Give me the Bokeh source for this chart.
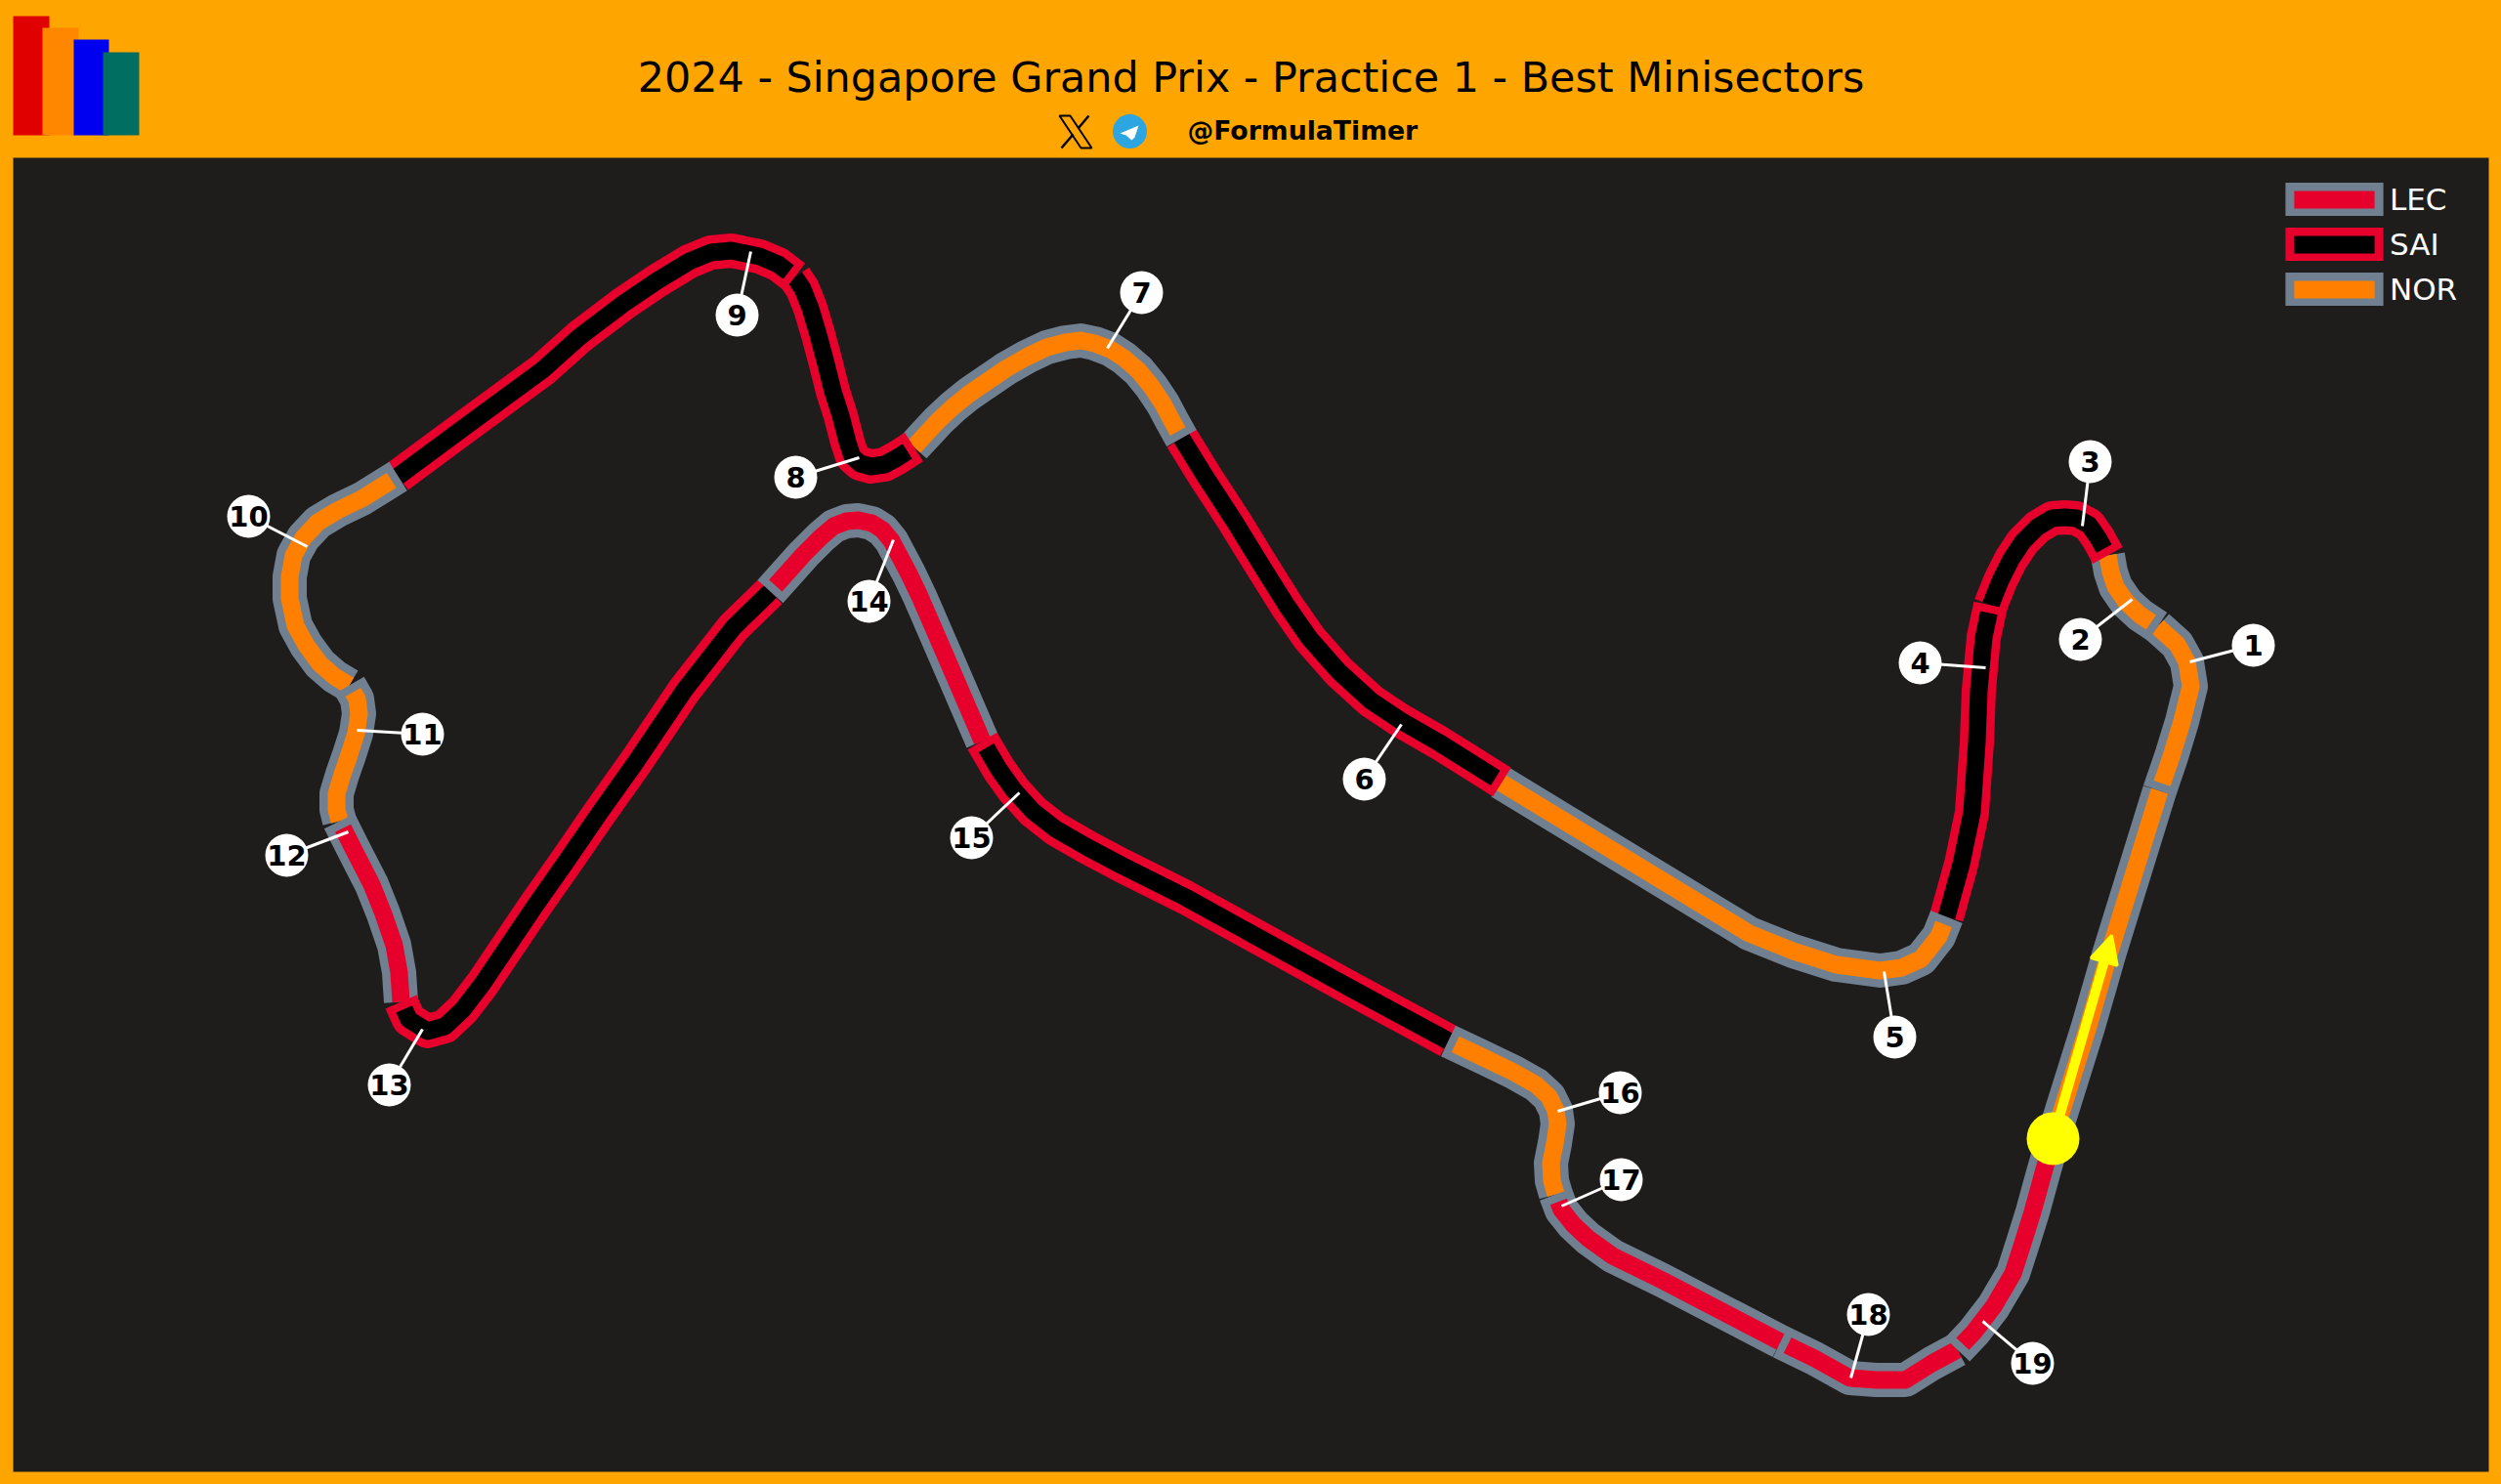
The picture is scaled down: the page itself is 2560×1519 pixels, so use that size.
import math
from bokeh.plotting import figure
from bokeh.models import Range1d, Legend, LegendItem, Arrow, NormalHead
from bokeh.core.properties import value
from bokeh.embed import file_html
from bokeh.resources import INLINE

TITLE = "2024 - Singapore Grand Prix - Practice 1 - Best Minisectors"
HANDLE = "@FormulaTimer"

drivers = ["LEC", "SAI", "NOR"]
inner_colors = {"LEC": "#E8002D", "SAI": "#000000", "NOR": "#FF8000"}
outer_colors = {"LEC": "#708090", "SAI": "#E8002D", "NOR": "#708090"}

sector_00 = [(2101,1165),(2137,1050),(2158,977),(2210,809)]
sector_01 = [(2210,809),(2222,774),(2233,738),(2242,702),(2238,677),(2228,659),(2208,641)]
sector_02 = [(2208,641),(2190,629),(2176,616),(2165,600),(2160,585),(2157,568)]
sector_03 = [(2157,568),(2147,550),(2138,537),(2125,530),(2113,529),(2100,530),(2085,539),(2070,554),(2058,572),(2047,594),(2037,619)]
sector_04 = [(2037,619),(2030,652),(2025,706),(2023,759),(2018,831),(2007,884),(1992,938)]
sector_05 = [(1992,938),(1984,958),(1966,981),(1946,990),(1924,993),(1879,987),(1835,973),(1790,955),(1535,800)]
sector_06 = [(1537,800),(1473,760),(1433,737),(1403,717),(1370,687),(1340,653),(1317,620),(1290,577),(1263,533),(1233,487),(1209,448)]
sector_07 = [(1209,448),(1199,430),(1190,413),(1178,395),(1165,379),(1150,366),(1136,357),(1120,351),(1106,348),(1090,350),(1071,355),(1050,365),(1029,377),(1010,390),(991,403),(975,416),(960,430),(947,444),(935,457)]
sector_08 = [(935,457),(918,468),(905,475),(891,477),(880,474),(872,467),(867,452),(860,425),(852,400),(845,372),(837,342),(829,315),(821,295),(813,283)]
sector_09 = [(813,283),(796,270),(777,262),(748,256),(727,258),(705,267),(672,287),(638,310),(593,344),(555,378),(480,433),(407,487)]
sector_10 = [(407,487),(370,510),(345,522),(325,534),(310,550),(300,568),(296,590),(296,612),(302,640),(313,660),(327,679),(342,692),(357,701)]
sector_11 = [(357,701),(365,715),(367,730),(364,750),(357,772),(350,792),(344,812),(344,828),(347,840)]
sector_12 = [(347,840),(360,866),(380,905),(392,935),(403,967),(408,995),(410,1025)]
sector_13 = [(410,1025),(418,1043),(437,1055),(455,1050),(473,1033),(493,1007),(520,967),(547,927),(580,880),(613,832),(650,780),(700,706),(750,642),(788,605)]
sector_14 = [(788,605),(822,567),(840,549),(853,538),(866,533),(878,532),(892,535),(903,542),(912,553),(921,570),(930,587),(941,610),(954,640),(980,700),(1005,758)]
sector_15 = [(1005,758),(1022,787),(1037,808),(1057,830),(1080,848),(1113,867),(1147,885),(1213,918),(1280,955),(1380,1010),(1482,1065)]
sector_16 = [(1482,1065),(1520,1083),(1549,1097),(1572,1110),(1585,1122),(1592,1136),(1594,1150),(1591,1170),(1587,1190),(1588,1208),(1592,1222)]
sector_17 = [(1592,1222),(1598,1238),(1610,1253),(1625,1267),(1650,1285),(1701,1310),(1822,1373)]
sector_18 = [(1822,1373),(1857,1390),(1893,1410),(1920,1412),(1950,1412),(1977,1395),(2003,1381)]
sector_19 = [(2003,1381),(2020,1363),(2040,1337),(2060,1303),(2070,1272),(2080,1240),(2091,1200),(2101,1165)]

sector_drivers = ["NOR","NOR","NOR","SAI","SAI","NOR","SAI","NOR","SAI","SAI",
                  "NOR","NOR","LEC","SAI","LEC","SAI","NOR","LEC","LEC","LEC"]
sectors = [sector_00,sector_01,sector_02,sector_03,sector_04,sector_05,sector_06,sector_07,
           sector_08,sector_09,sector_10,sector_11,sector_12,sector_13,sector_14,sector_15,
           sector_16,sector_17,sector_18,sector_19]

label_numbers = list(range(1, 20))
label_x = [2306,2129,2139,1965,1939,1396,1168,814,754,254,432,293,398,889,994,1658,1659,1912,2080]
label_y = [660,654,472,678,1061,797,299,488,322,528,751,875,1110,615,857,1118,1207,1345,1395]
anchor_x = [2241,2182,2131,2032,1928,1434,1133,879,768,314,365,356,432,914,1043,1594,1598,1894,2029]
anchor_y = [677,613,538,683,994,741,356,468,257,559,747,851,1053,552,811,1137,1234,1410,1352]

logo_left = [13,43,75,105]
logo_right = [50,80,111,142]
logo_top = [16,28,40,53]
logo_colors = ["#E00000","#FF8700","#0000F0","#006F62"]

start_point = (2101,1165)
arrow_tip = (2161,957)

W, H = 2560, 1519
p = figure(width=W, height=H, output_backend="svg", toolbar_location=None,
           x_range=Range1d(0, W), y_range=Range1d(H, 0),
           x_axis_type=None, y_axis_type=None, min_border=0, outline_line_color=None,
           background_fill_color="#FFA500", border_fill_color="#FFA500")
p.grid.visible = False

# panel
p.quad(left=[13], right=[2547], top=[161], bottom=[1506], fill_color="#1E1D1B", line_color=None)

# logo
p.quad(left=logo_left, right=logo_right, top=logo_top, bottom=[138]*4, fill_color=logo_colors, line_color=None)

# header
p.text(x=[1280], y=[78], text=[TITLE], text_font=value("DejaVu Sans"), text_font_size="42.85px",
       text_color="#000000", text_align="center", text_baseline="middle")
p.text(x=[1215], y=[133], text=[HANDLE], text_font=value("DejaVu Sans"), text_font_style="bold",
       text_font_size="26.7px", text_color="#000000", text_align="left", text_baseline="middle")
p.patch([1084,1095,1117,1106],[118,118,151,151], fill_alpha=0, line_color="#000000", line_width=2)
p.multi_line([[1114,1103],[1098,1086]],[[118,131],[137,151]], line_color="#000000", line_width=2.5)
p.scatter([1156],[134], size=35, marker="circle", fill_color="#2CA5E0", line_color=None)
p.patch([1165,1146,1152,1158,1161],[128,136,138,143,140], fill_color="#FFFFFF", line_color=None)

# track
def trim_start(pts, d=8.0):
    (x0,y0),(x1,y1) = pts[0],pts[1]
    L = math.hypot(x1-x0,y1-y0)
    return [(x0+(x1-x0)*d/L, y0+(y1-y0)*d/L)] + pts[1:]

for pts, drv in zip(sectors, sector_drivers):
    p.line([a for a,_ in pts],[b for _,b in pts], line_width=35, line_color=outer_colors[drv],
           line_cap="butt", line_join="round")
    q = trim_start(pts)
    p.line([a for a,_ in q],[b for _,b in q], line_width=18, line_color=inner_colors[drv],
           line_cap="butt", line_join="round")

# leaders + labels
p.segment(x0=label_x, y0=label_y, x1=anchor_x, y1=anchor_y, line_color="#FFFFFF", line_width=3)
p.scatter(label_x, label_y, size=44, marker="circle", fill_color="#FFFFFF", line_color=None)
p.text(x=label_x, y=label_y, text=[str(n) for n in label_numbers], text_font=value("DejaVu Sans"),
       text_font_style="bold", text_font_size="29px", text_color="#000000",
       text_align="center", text_baseline="middle")

# start
p.scatter([start_point[0]],[start_point[1]], size=54, marker="circle", fill_color="#FFFF00", line_color=None)
p.add_layout(Arrow(end=NormalHead(size=28, fill_color="#FFFF00", line_color="#FFFF00", line_width=3),
                   x_start=start_point[0], y_start=start_point[1], x_end=arrow_tip[0], y_end=arrow_tip[1],
                   line_color="#FFFF00", line_width=10))

# legend
nan = float("nan")
items = []
for d in drivers:
    r = p.quad(left=[nan], right=[nan], top=[nan], bottom=[nan], fill_color=inner_colors[d],
               line_color=outer_colors[d], line_width=9, line_join="miter")
    items.append(LegendItem(label=d, renderers=[r]))
leg = Legend(items=items, location=(2332, 1205), margin=0, padding=0, spacing=10,
             glyph_width=114, glyph_height=34, label_standoff=0,
             background_fill_alpha=0, border_line_color=None,
             label_text_color="#FFFFFF", label_text_font="DejaVu Sans", label_text_font_size="31px")
p.add_layout(leg)

html = file_html(p, INLINE)
html = html.replace("<head>", "<head><style>html,body{background:#FFA500}</style>", 1)
open("out.html", "w").write(html)
